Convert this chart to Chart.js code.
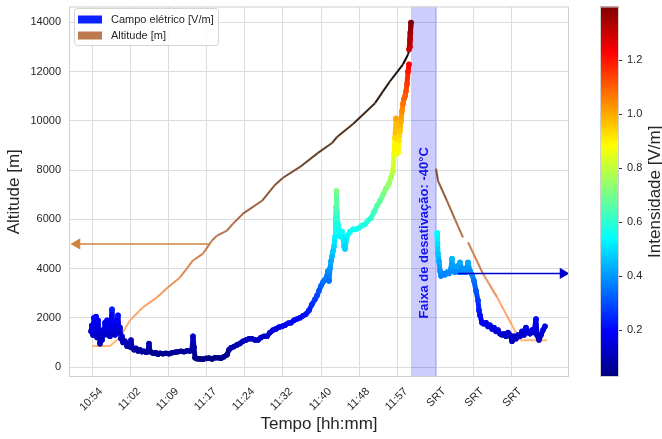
<!DOCTYPE html>
<html>
<head>
<meta charset="utf-8">
<script src="https://cdn.jsdelivr.net/npm/chart.js@4"></script>
<style>
  html, body { margin: 0; padding: 0; background: #fff; }
  canvas { display: block; }
</style>
</head>
<body>
<canvas id="chart" width="662" height="439"></canvas>
<script>
// x values are sample indices, ticks every ~38 samples
const tickPos = [0, 38, 76, 114, 152, 190, 229, 267, 305, 343, 381, 419];
const tickLabels = ['10:54', '11:02', '11:09', '11:17', '11:24', '11:32', '11:40', '11:48', '11:57', 'SRT', 'SRT', 'SRT'];

// altitude [m] (null = gap)
const altX = [0, 18, 28, 38, 51, 65, 76, 88, 101, 111, 113, 120, 125, 135, 141, 151, 170, 183, 191, 208,
  226, 240, 245, 261, 283, 291, 298, 311, 316, 317, 330,
  344, 346, 355, 363, 371, 373, 376, 391, 405, 420, 428, 455];
const altY = [850, 850, 1210, 1900, 2430, 2830, 3240, 3640, 4330, 4610, 4730, 5140, 5340, 5540, 5825, 6230, 6755, 7400, 7690, 8130,
  8700, 9100, 9345, 9870, 10720, 11200, 11610, 12300, 12700, 12820, null,
  8060, 7560, 6750, 6000, 5270, null, 5070, 3790, 2840, 1700, 1090, 1090];

// electric field [V/m] (null = gap)
const fieldX = [-1, 0, 1, 2, 3, 4, 5, 6, 7, 8, 9, 10, 11, 12, 13, 14, 15, 16, 17, 18,
  19, 20, 21, 22, 23, 24, 25, 26, 27, 28, 29, 30, 31, 33, 35, 36, 38, 39, 40, 42,
  44, 46, 48, 50, 52, 54, 56, 57, 58, 60, 62, 64, 66, 68, 71, 74, 77, 80, 83, 86,
  89, 92, 95, 98, 100, 101, 102, 103, 105, 108, 111, 114, 117, 120, 123, 126, 129, 132, 135, 137,
  139, 142, 145, 148, 151, 154, 157, 160, 163, 166, 169, 172, 175, 178, 181, 184, 187, 190, 193, 196,
  199, 202, 205, 208, 211, 214, 217, 220, 223, 225, 227, 229, 231, 233, 235, 236, 237, 238, 239, 240,
  241, 242, 243, 243.5, 244, 244.5, 245, 246, 247, 248, 250, 252, 253, 255, 258, 261, 264, 267, 270, 273,
  276, 279, 282, 285, 288, 291, 294, 297, 299, 301, 302, 303, 304, 305, 306, 307, 308, 309, 310, 311,
  312, 313, 314, 315, 316, 317, 317, 317, 318, 319, 318.5, 318, 318,
  345, 345.5, 346, 347, 348, 349, 351, 353, 355, 357, 359, 360, 361, 363, 365, 367, 368, 370, 372, 374,
  376, 378, 380, 382, 384, 386, 387, 388, 390, 392, 394, 396, 398, 400, 402, 404, 406, 408, 410, 412,
  414, 416, 418, 420, 422, 424, 426, 428, 430, 432, 434, 436, 438, 440, 442, 444, 445, 447, 449, 451, 453];
const fieldV = [0.145, 0.170, 0.130, 0.200, 0.150, 0.205, 0.120, 0.190, 0.140, 0.095, 0.130, 0.110, 0.150, 0.130, 0.180, 0.150, 0.190, 0.130, 0.150, 0.125,
  0.170, 0.235, 0.140, 0.165, 0.130, 0.150, 0.180, 0.210, 0.140, 0.160, 0.115, 0.125, 0.100, 0.105, 0.085, 0.095, 0.082, 0.110, 0.080, 0.070,
  0.076, 0.065, 0.070, 0.062, 0.064, 0.060, 0.062, 0.095, 0.064, 0.058, 0.056, 0.058, 0.052, 0.056, 0.054, 0.056, 0.054, 0.058, 0.060, 0.062,
  0.064, 0.062, 0.066, 0.065, 0.070, 0.125, 0.080, 0.038, 0.034, 0.033, 0.032, 0.035, 0.036, 0.033, 0.038, 0.038, 0.036, 0.042, 0.050, 0.070,
  0.078, 0.083, 0.090, 0.096, 0.105, 0.110, 0.115, 0.115, 0.110, 0.110, 0.120, 0.125, 0.125, 0.140, 0.150, 0.155, 0.162, 0.165, 0.170, 0.178,
  0.180, 0.190, 0.195, 0.200, 0.208, 0.215, 0.230, 0.255, 0.275, 0.290, 0.310, 0.330, 0.345, 0.355, 0.370, 0.390, 0.350, 0.400, 0.430, 0.450,
  0.470, 0.490, 0.530, 0.600, 0.650, 0.715, 0.630, 0.580, 0.550, 0.530, 0.550, 0.490, 0.480, 0.530, 0.550, 0.560, 0.560, 0.565, 0.575, 0.580,
  0.595, 0.605, 0.630, 0.655, 0.675, 0.700, 0.725, 0.745, 0.770, 0.795, 0.860, 0.930, 1.010, 0.930, 0.870, 0.920, 0.960, 1.000, 1.040, 1.070,
  1.090, 1.100, 1.120, 1.150, 1.200, 1.230, null, 1.290, 1.330, 1.400, 1.360, 1.300, null,
  0.545, 0.500, 0.460, 0.430, 0.390, 0.370, 0.380, 0.375, 0.385, 0.380, 0.400, 0.440, 0.390, 0.385, 0.410, 0.385, 0.425, 0.385, 0.400, 0.385,
  0.425, 0.390, 0.375, 0.350, 0.310, 0.270, 0.230, 0.210, 0.180, 0.175, 0.180, 0.165, 0.170, 0.155, 0.160, 0.145, 0.150, 0.135, 0.130, 0.135,
  0.125, 0.140, 0.130, 0.105, 0.125, 0.115, 0.130, 0.125, 0.145, 0.130, 0.160, 0.140, 0.135, 0.150, 0.140, 0.195, 0.130, 0.110, 0.130, 0.150, 0.165];

const FIELD_SCALE = 10000;   // field plotted on altitude axis
const V_MIN = 0.026, V_MAX = 1.40;
const cbarTicks = [0.2, 0.4, 0.6, 0.8, 1.0, 1.2];
const yTicks = [0, 2000, 4000, 6000, 8000, 10000, 12000, 14000];
const bandRange = [319, 345];
const bandLabel = 'Faixa de desativação: -40°C';
const bandLabelAlt = 5450;
const arrowAltX = [117, -15], arrowAltY = [5000, 5000];
const arrowFieldX = [366, 471], arrowFieldY = [3800, 3800];

const FONT = '"Liberation Sans", Arial, sans-serif';
Chart.defaults.font.family = FONT;
Chart.defaults.color = '#262626';

function jet(v) {
    const t = Math.min(1, Math.max(0, (v - V_MIN) / (V_MAX - V_MIN)));
    const c = k => Math.round(255 * Math.min(1, Math.max(0, 1.5 - Math.abs(4 * t - k))));
    return `rgb(${c(3)},${c(2)},${c(1)})`;
}

function copper(alt) {
    const t = Math.min(1, Math.max(0, 1 - alt / 13000));
    return `rgb(${Math.round(255 * Math.min(1, t / 0.8095))},${Math.round(255 * 0.7812 * t)},${Math.round(255 * 0.4975 * t)})`;
}

// stop tick padding from pushing the chart area around
const noPad = s => { s.paddingTop = 0; s.paddingBottom = 0; s.paddingLeft = 0; s.paddingRight = 0; };

const fieldData = fieldX.map((x, i) => ({ x, y: fieldV[i] === null ? null : fieldV[i] * FIELD_SCALE }));
const altData = altX.map((x, i) => ({ x, y: altY[i] }));

const overlay = {
    id: 'overlay',
    beforeDatasetsDraw(chart) {
        const { ctx, chartArea: a, scales: { x, y } } = chart;
        const x0 = x.getPixelForValue(bandRange[0]);
        const x1 = x.getPixelForValue(bandRange[1]);
        ctx.save();
        ctx.fillStyle = 'rgba(0,0,255,0.2)';
        ctx.fillRect(x0, a.top, x1 - x0, a.bottom - a.top);
        ctx.translate((x0 + x1) / 2, y.getPixelForValue(bandLabelAlt));
        ctx.rotate(-Math.PI / 2);
        ctx.fillStyle = '#1414eb';
        ctx.font = 'bold 13px ' + FONT;
        ctx.textAlign = 'center';
        ctx.textBaseline = 'middle';
        ctx.fillText(bandLabel, 0, 0);
        ctx.restore();
    },
    beforeDraw(chart) {
        // colorbar body, drawn before the scale labels
        const { ctx, chartArea: a, scales: { cbar } } = chart;
        const cx0 = a.right + 31, cw = 19;
        const top = cbar.getPixelForValue(V_MAX), bot = cbar.getPixelForValue(V_MIN);
        ctx.save();
        const g = ctx.createLinearGradient(0, bot, 0, top);
        for (let i = 0; i <= 40; i++) {
            g.addColorStop(i / 40, jet(V_MIN + (V_MAX - V_MIN) * i / 40));
        }
        ctx.fillStyle = g;
        ctx.fillRect(cx0, top, cw, bot - top);
        ctx.strokeStyle = '#d0d0d0';
        ctx.lineWidth = 1;
        ctx.strokeRect(cx0 + 0.5, top + 0.5, cw - 1, bot - top - 1);
        ctx.strokeStyle = '#333';
        cbarTicks.forEach(v => {
            const py = Math.round(cbar.getPixelForValue(v)) + 0.5;
            ctx.beginPath();
            ctx.moveTo(cx0 + cw, py);
            ctx.lineTo(cx0 + cw + 3, py);
            ctx.stroke();
        });
        ctx.translate(655, (top + bot) / 2);
        ctx.rotate(-Math.PI / 2);
        ctx.fillStyle = '#262626';
        ctx.font = '17px ' + FONT;
        ctx.textAlign = 'center';
        ctx.textBaseline = 'middle';
        ctx.fillText('Intensidade [V/m]', 0, 0);
        ctx.restore();
    },
    afterDraw(chart) {
        const { ctx, chartArea: a } = chart;
        ctx.save();
        // frame
        ctx.strokeStyle = '#d0d0d0';
        ctx.lineWidth = 1;
        ctx.strokeRect(a.left + 0.5, a.top + 0.5, a.right - a.left - 1, a.bottom - a.top - 1);

        // legend
        const lx = 74, ly = 8, lw = 144, lh = 37;
        ctx.fillStyle = 'rgba(255,255,255,0.85)';
        ctx.strokeStyle = '#d5d5d5';
        ctx.beginPath();
        ctx.roundRect(lx + 0.5, ly + 0.5, lw, lh, 3);
        ctx.fill();
        ctx.stroke();
        const items = [['Campo elétrico [V/m]', '#0a22ff'], ['Altitude [m]', '#bd7a4e']];
        ctx.font = '11px ' + FONT;
        ctx.textBaseline = 'middle';
        items.forEach(([t, c], i) => {
            const cy = ly + 11.5 + i * 16;
            ctx.fillStyle = c;
            ctx.fillRect(lx + 4, cy - 4, 24, 8);
            ctx.fillStyle = '#262626';
            ctx.fillText(t, lx + 37, cy);
        });
        ctx.restore();
    }
};

new Chart(document.getElementById('chart'), {
    type: 'scatter',
    data: {
        datasets: [
            {
                label: 'arrow altitude',
                data: arrowAltX.map((x, i) => ({ x, y: arrowAltY[i] })),
                showLine: true,
                borderColor: '#cd853f',
                backgroundColor: '#cd853f',
                borderWidth: 1.5,
                pointRadius: [0, 6.5],
                pointStyle: 'triangle',
                rotation: [0, -90],
                pointBorderWidth: 0,
                order: 0
            },
            {
                label: 'arrow field',
                data: arrowFieldX.map((x, i) => ({ x, y: arrowFieldY[i] })),
                showLine: true,
                borderColor: '#0000cd',
                backgroundColor: '#0000cd',
                borderWidth: 1.5,
                pointRadius: [0, 6.5],
                pointStyle: 'triangle',
                rotation: [0, 90],
                pointBorderWidth: 0,
                order: 0
            },
            {
                label: 'Campo elétrico [V/m]',
                data: fieldData,
                showLine: true,
                spanGaps: false,
                borderWidth: 5,
                borderJoinStyle: 'round',
                borderCapStyle: 'round',
                pointRadius: 2.8,
                pointBorderWidth: 0,
                pointBackgroundColor: c => (c.raw && c.raw.y !== null) ? jet(c.raw.y / FIELD_SCALE) : 'rgba(0,0,0,0)',
                segment: {
                    borderColor: c => jet((c.p0.parsed.y + c.p1.parsed.y) / 2 / FIELD_SCALE)
                },
                order: 1
            },
            {
                label: 'Altitude [m]',
                data: altData,
                showLine: true,
                spanGaps: false,
                borderWidth: 2,
                pointRadius: 0,
                segment: {
                    borderColor: c => copper((c.p0.parsed.y + c.p1.parsed.y) / 2)
                },
                order: 2
            }
        ]
    },
    options: {
        responsive: false,
        animation: false,
        layout: { padding: { top: 5, left: 0, right: 0, bottom: 0 } },
        plugins: { legend: { display: false }, tooltip: { enabled: false } },
        scales: {
            x: {
                type: 'linear',
                min: -23,
                max: 477,
                afterFit: s => { s.height = 62; noPad(s); },
                afterBuildTicks: s => { s.ticks = tickPos.map(v => ({ value: v })); },
                ticks: {
                    autoSkip: false,
                    minRotation: 45,
                    maxRotation: 45,
                    padding: 8,
                    labelOffset: 9,
                    font: { size: 11 },
                    callback: (v, i) => tickLabels[i]
                },
                grid: { color: '#dcdcdc', lineWidth: 1, drawTicks: false },
                border: { display: false },
                title: { display: true, text: 'Tempo [hh:mm]', font: { size: 17 }, color: '#262626' }
            },
            y: {
                type: 'linear',
                min: -405,
                max: 14647,
                afterFit: s => { s.width = 69; noPad(s); },
                afterBuildTicks: s => { s.ticks = yTicks.map(v => ({ value: v })); },
                ticks: { padding: 8, font: { size: 11 }, callback: v => String(v) },
                grid: { color: '#dcdcdc', lineWidth: 1, drawTicks: false },
                border: { display: false },
                title: { display: true, text: 'Altitude [m]', font: { size: 17 }, color: '#262626' }
            },
            cbar: {
                type: 'linear',
                axis: 'y',
                position: 'right',
                min: V_MIN,
                max: V_MAX,
                afterFit: s => { s.width = 93; noPad(s); },
                afterBuildTicks: s => { s.ticks = cbarTicks.map(v => ({ value: v })); },
                ticks: { padding: 58, font: { size: 11 }, callback: v => v.toFixed(1) },
                grid: { display: false, drawTicks: false },
                border: { display: false }
            }
        }
    },
    plugins: [overlay]
});
</script>
</body>
</html>
